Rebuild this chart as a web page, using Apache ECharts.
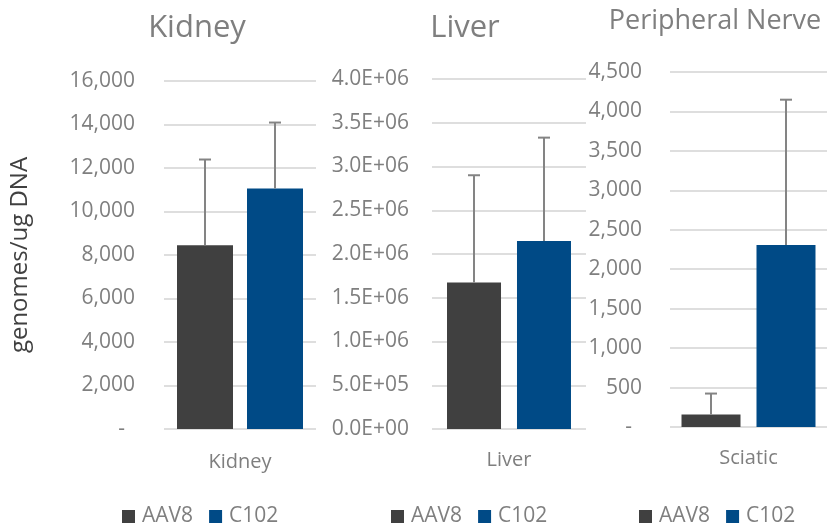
<!DOCTYPE html>
<html>
<head>
<meta charset="utf-8">
<script src="https://cdn.jsdelivr.net/npm/echarts@6/dist/echarts.min.js"></script>
<style>
  html, body { margin: 0; padding: 0; background: #ffffff; }
  #chart { width: 827px; height: 531px; }
</style>
</head>
<body>
<div id="chart"></div>
<script>
// Vector genome copies per ug DNA, mean with +SD, by tissue
const seriesNames = ['AAV8', 'C102'];

const kidneyCategories = ['Kidney'];
const kidneyMean = [8450, 11060];
const kidneySD = [3940, 3030];

const liverCategories = ['Liver'];
const liverMean = [1675000, 2150000];
const liverSD = [1225000, 1180000];

const nerveCategories = ['Sciatic'];
const nerveMean = [157, 2308];
const nerveSD = [267, 1841];

const panelTitles = ['Kidney', 'Liver', 'Peripheral Nerve'];
const yAxisName = 'genomes/ug DNA';

const kidneyAxis = { min: 0, max: 16000, interval: 2000 };
const liverAxis = { min: 0, max: 4000000, interval: 500000 };
const nerveAxis = { min: 0, max: 4500, interval: 500 };

// ---- styling / layout ----
const FONT = '"Open Sans", "DejaVu Sans", sans-serif';
const GRAY = '#7f7f7f';
const COLORS = ['#404040', '#004a86'];
const ERR_COLOR = '#848484';

const commaFmt = v => v === 0 ? '{d|-}' : v.toLocaleString('en-US');
const sciFmt = v => {
  if (v === 0) return '0.0E+00';
  const e = Math.floor(Math.log10(v));
  const m = (v / Math.pow(10, e)).toFixed(1);
  return m + 'E+' + String(e).padStart(2, '0');
};

const panels = [
  { cats: kidneyCategories, mean: kidneyMean, sd: kidneySD, axis: kidneyAxis, fmt: commaFmt,
    grid: { left: 164, top: 81, width: 152, height: 348 }, labelMargin: 29, catMargin: 23,
    barWidth: 56, gap: 14, title: { x: 197, y: 13, size: 31 }, legendLeft: 122 },
  { cats: liverCategories, mean: liverMean, sd: liverSD, axis: liverAxis, fmt: sciFmt,
    grid: { left: 432, top: 79, width: 154, height: 350 }, labelMargin: 23, catMargin: 21,
    barWidth: 54, gap: 16, title: { x: 465, y: 13, size: 31 }, legendLeft: 391 },
  { cats: nerveCategories, mean: nerveMean, sd: nerveSD, axis: nerveAxis, fmt: commaFmt,
    grid: { left: 670, top: 72, width: 164, height: 355 }, labelMargin: 28, catMargin: 21,
    barWidth: 59, gap: 16, title: { x: 715, y: 8, size: 27 }, legendLeft: 639 }
];

const grids = [], xAxes = [], yAxes = [], series = [], titles = [], legends = [];

panels.forEach((p, i) => {
  grids.push(Object.assign({ containLabel: false }, p.grid));

  xAxes.push({
    type: 'category', gridIndex: i, data: p.cats,
    axisLine: { show: false }, axisTick: { show: false },
    axisLabel: { color: GRAY, fontFamily: FONT, fontSize: 20, margin: p.catMargin }
  });

  yAxes.push({
    type: 'value', gridIndex: i,
    min: p.axis.min, max: p.axis.max, interval: p.axis.interval,
    axisLine: { show: false }, axisTick: { show: false },
    splitLine: { lineStyle: { color: '#dedede', width: 2 } },
    axisLabel: {
      color: GRAY, fontFamily: FONT, fontSize: 21, margin: p.labelMargin,
      formatter: p.fmt,
      rich: { d: { color: GRAY, fontFamily: FONT, fontSize: 21, padding: [0, 10, 0, 0] } }
    },
    name: i === 0 ? yAxisName : '',
    nameLocation: 'middle', nameRotate: 90, nameGap: 132,
    nameTextStyle: { color: '#404040', fontFamily: FONT, fontSize: 24 }
  });

  seriesNames.forEach((name, s) => {
    series.push({
      type: 'bar', name: name, xAxisIndex: i, yAxisIndex: i,
      data: [p.mean[s]],
      barWidth: p.barWidth,
      barGap: (p.gap / p.barWidth * 100).toFixed(1) + '%',
      itemStyle: { color: COLORS[s] },
      emphasis: { disabled: true }
    });
  });

  // upper error bars (+SD) centred on each bar
  series.push({
    type: 'custom', name: 'SD', xAxisIndex: i, yAxisIndex: i, z: 5,
    encode: { x: 0, y: 1 },
    data: p.mean.map((m, s) => [0, m, m + p.sd[s], s]),
    renderItem(params, api) {
      const s = api.value(3);
      const base = api.coord([api.value(0), api.value(1)]);
      const top = api.coord([api.value(0), api.value(2)]);
      const x = base[0] + (s === 0 ? -1 : 1) * (p.barWidth + p.gap) / 2;
      const style = { stroke: ERR_COLOR, lineWidth: 2 };
      return {
        type: 'group',
        children: [
          { type: 'line', shape: { x1: x, y1: base[1], x2: x, y2: top[1] }, style },
          { type: 'line', shape: { x1: x - 6, y1: top[1], x2: x + 6, y2: top[1] }, style }
        ]
      };
    }
  });

  titles.push({
    text: panelTitles[i], left: p.title.x, top: p.title.y, textAlign: 'center', padding: 0,
    textStyle: { color: GRAY, fontFamily: FONT, fontSize: p.title.size, fontWeight: 'normal' }
  });

  legends.push({
    data: seriesNames, left: p.legendLeft, top: 506, orient: 'horizontal',
    itemWidth: 13, itemHeight: 13, itemGap: 16, icon: 'rect', padding: 0,
    textStyle: { color: GRAY, fontFamily: FONT, fontSize: 21, padding: [0, 0, 0, 2] }
  });
});

const chart = echarts.init(document.getElementById('chart'), null, { renderer: 'canvas' });
chart.setOption({
  animation: false,
  backgroundColor: '#ffffff',
  color: COLORS,
  title: titles,
  legend: legends,
  grid: grids,
  xAxis: xAxes,
  yAxis: yAxes,
  series: series
});
</script>
</body>
</html>
